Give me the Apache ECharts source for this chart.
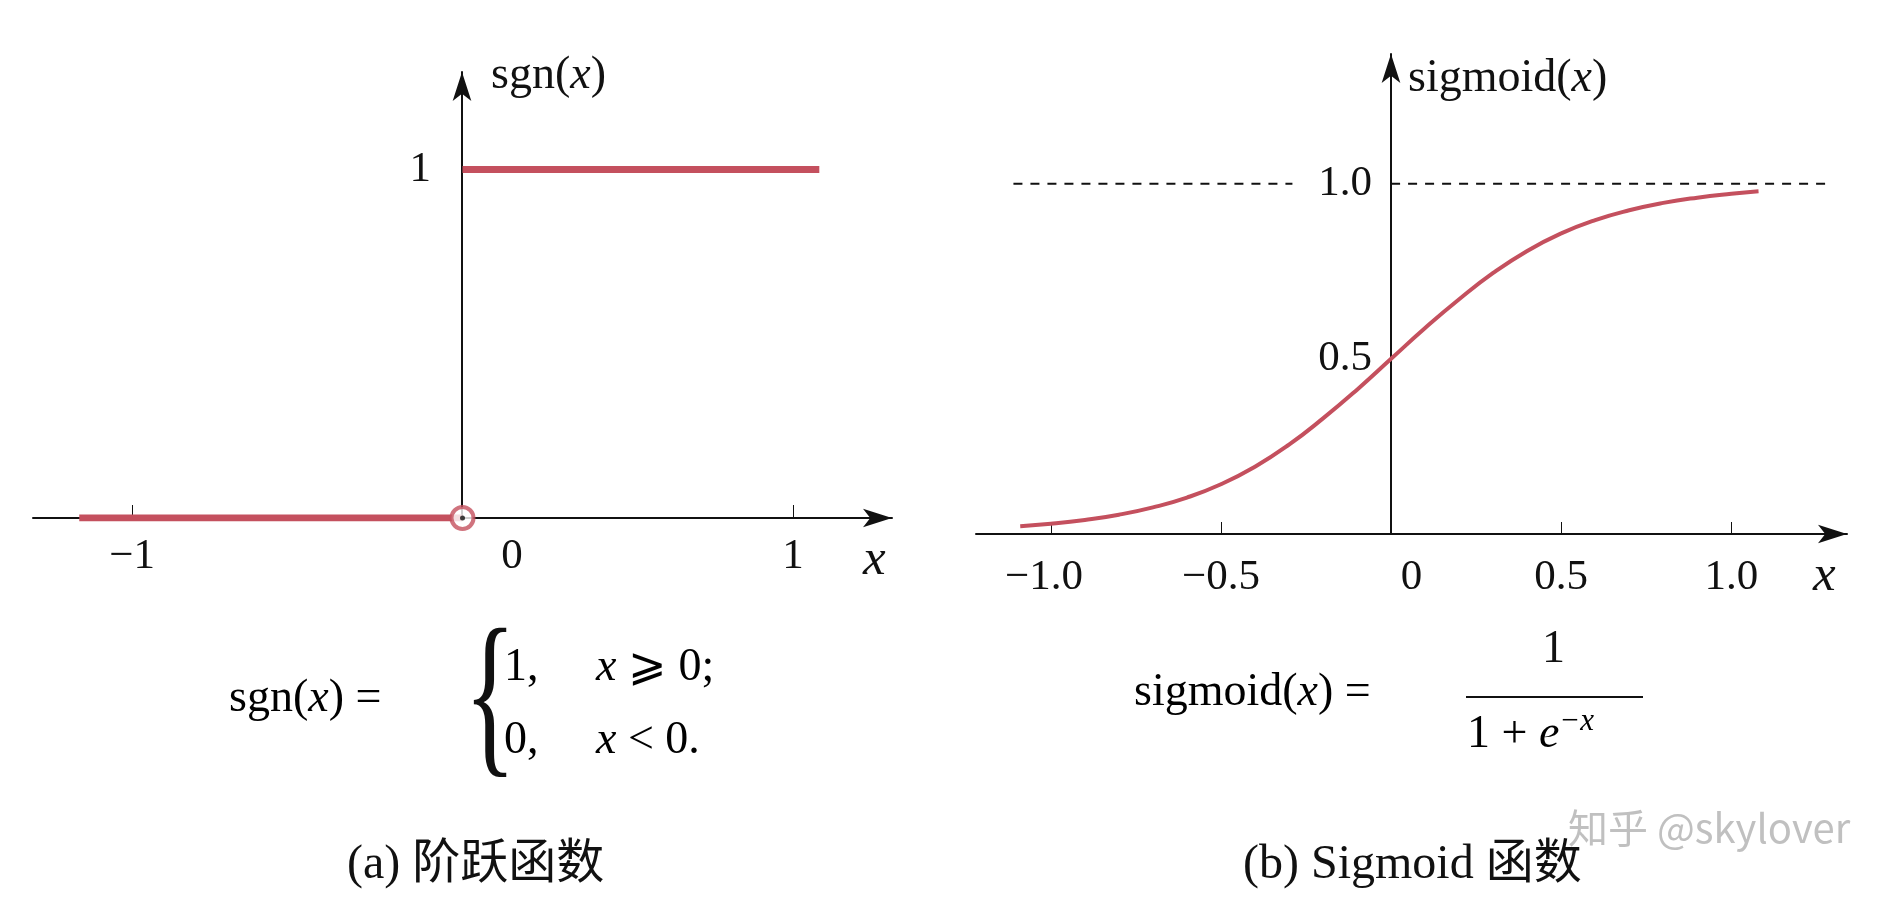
<!DOCTYPE html>
<html><head><meta charset="utf-8">
<script src="https://cdn.jsdelivr.net/npm/echarts@6/dist/echarts.min.js"></script>
<style>html,body{margin:0;background:#fff}#main{width:1882px;height:914px}</style>
</head><body><div id="main"></div>
<script>
// step function segments
var stepLow = [[-1.16, 0], [0, 0]];
var stepHigh = [[0, 1], [1.08, 1]];
// sigmoid curve
var sigX = [-1.09, -1.0, -0.9, -0.8, -0.7, -0.6, -0.5, -0.4, -0.3, -0.2, -0.1, 0, 0.1, 0.2, 0.3, 0.4, 0.5, 0.6, 0.7, 0.8, 0.9, 1.0, 1.08];
var sigY = [0.022, 0.029, 0.040, 0.055, 0.076, 0.104, 0.142, 0.192, 0.255, 0.330, 0.412, 0.5, 0.588, 0.670, 0.745, 0.808, 0.858, 0.896, 0.924, 0.945, 0.960, 0.971, 0.978];
var leftTicks = [-1, 1];
var leftLabels = [-1, 0.15, 1];
var rightTicks = [-1, -0.5, 0.5, 1];
var rightLabels = [-1.02, -0.5, 0.06, 0.5, 1];

var S = 1882 / 1560;
function p(v) { return Math.round(v * S); }
var serif = 'Liberation Serif';
var red = '#c4505e';
var ink = '#111';
var myChart = echarts.init(document.getElementById('main'));
function fmt(v) {
    if (Math.abs(v - 0.15) < 1e-6) return '0';
    return String(v).replace('-', '−');
}
function fmt1(v) {
    if (Math.abs(v - 0.06) < 1e-6) return '0';
    var a = Math.abs(v) > 0.9 ? 1 : Math.abs(v);
    return (v < 0 ? '−' : '') + a.toFixed(1);
}
var fs = p(36);
var rich = {
    r: { fontFamily: serif, fontSize: p(38), color: ink },
    i: { fontFamily: serif, fontStyle: 'italic', fontSize: p(38), color: ink },
    s: { fontFamily: serif, fontStyle: 'italic', fontSize: p(26), color: ink, verticalAlign: 'top', padding: [0, 0, p(22), 0] }
};
function axisLine() {
    return { onZero: false, lineStyle: { color: ink, width: 2 }, symbol: ['none', 'arrow'], symbolSize: [p(12), p(24)] };
}
var xName = { fontFamily: serif, fontStyle: 'italic', fontSize: p(42), color: ink, verticalAlign: 'top', padding: [p(14), 0, 0, 0] };
myChart.setOption({
    animation: false,
    grid: [
        { left: p(27), top: p(60), width: p(712), height: p(370) },
        { left: p(809), top: p(45), width: p(722), height: p(398) }
    ],
    xAxis: [
        { gridIndex: 0, type: 'value', min: -1.3, max: 1.3, splitLine: { show: false }, axisLine: axisLine(),
          axisTick: { inside: true, length: p(11), customValues: leftTicks, lineStyle: { color: ink } },
          axisLabel: { customValues: leftLabels, formatter: fmt, fontFamily: serif, fontSize: fs, color: ink, margin: p(14) },
          name: 'x', nameGap: p(-24), nameTextStyle: xName },
        { gridIndex: 1, type: 'value', min: -1.22, max: 1.34, splitLine: { show: false }, axisLine: axisLine(),
          axisTick: { inside: true, length: p(10), customValues: rightTicks, lineStyle: { color: ink } },
          axisLabel: { customValues: rightLabels, formatter: fmt1, fontFamily: serif, fontSize: fs, color: ink, margin: p(18) },
          name: 'x', nameGap: p(-28), nameTextStyle: xName }
    ],
    yAxis: [
        { gridIndex: 0, type: 'value', min: 0, max: 1.28, offset: -p(356), splitLine: { show: false }, axisLine: axisLine(),
          axisTick: { show: false },
          axisLabel: { customValues: [1], fontFamily: serif, fontSize: fs, color: ink, margin: p(26) },
          name: '{r|sgn(}{i|x}{r|)}', nameGap: p(-22), nameTextStyle: { align: 'left', padding: [0, 0, 0, p(24)], rich: rich } },
        { gridIndex: 1, type: 'value', min: 0, max: 1.37, offset: -p(344), splitLine: { show: false }, axisLine: axisLine(),
          axisTick: { show: false },
          axisLabel: { customValues: [0.5, 1], formatter: function (v) { return v.toFixed(1); }, fontFamily: serif, fontSize: fs, color: ink, margin: p(16) },
          name: '{r|sigmoid(}{i|x}{r|)}', nameGap: p(-40), nameTextStyle: { align: 'left', padding: [0, 0, 0, p(14)], rich: rich } }
    ],
    series: [
        { type: 'line', xAxisIndex: 0, yAxisIndex: 0, data: stepLow, symbol: 'none', lineStyle: { color: red, width: 7 }, z: 5 },
        { type: 'line', xAxisIndex: 0, yAxisIndex: 0, data: stepHigh, symbol: 'none', lineStyle: { color: red, width: 7 }, z: 5 },
        { type: 'scatter', xAxisIndex: 0, yAxisIndex: 0, data: [[0, 0]], symbol: 'circle', symbolSize: p(18),
          itemStyle: { color: '#fff', borderColor: red, borderWidth: 4 }, z: 6 },
        { type: 'scatter', xAxisIndex: 0, yAxisIndex: 0, data: [[0, 0]], symbol: 'circle', symbolSize: 5, itemStyle: { color: ink }, z: 7 },
        { type: 'line', xAxisIndex: 1, yAxisIndex: 1, data: [[-1.11, 1], [-0.29, 1], null, [0, 1], [1.28, 1]], connectNulls: false,
          symbol: 'none', lineStyle: { color: ink, width: 2, type: [9, 8] } },
        { type: 'line', xAxisIndex: 1, yAxisIndex: 1, smooth: true, symbol: 'none',
          data: sigX.map(function (x, i) { return [x, sigY[i]]; }), lineStyle: { color: red, width: 4 }, z: 5 }
    ],
    graphic: [
        { type: 'text', left: p(190), top: p(560), style: { text: '{r|sgn(}{i|x}{r|) =}', rich: rich } },
        { type: 'text', left: p(385), top: p(510), style: { text: '{', font: p(150) + 'px "' + serif + '"', fill: ink }, scaleX: 0.6 },
        { type: 'text', left: p(418), top: p(535), style: { text: '{r|1,     }{i|x}{r| ⩾ 0;}', rich: rich } },
        { type: 'text', left: p(418), top: p(595), style: { text: '{r|0,     }{i|x}{r| < 0.}', rich: rich } },
        { type: 'text', left: p(940), top: p(555), style: { text: '{r|sigmoid(}{i|x}{r|) =}', rich: rich } },
        { type: 'text', left: p(1278), top: p(520), style: { text: '1', font: p(38) + 'px "' + serif + '"', fill: ink } },
        { type: 'line', shape: { x1: p(1215), y1: p(578), x2: p(1362), y2: p(578) }, style: { stroke: ink, lineWidth: 2 } },
        { type: 'text', left: p(1216), top: p(585), style: { text: '{r|1 + }{i|e}{s|−x}', rich: rich } },
        { type: 'text', left: p(288), top: p(697), style: { text: '(a) 阶跃函数', font: p(40) + 'px "' + serif + '", "Noto Sans CJK SC"', fill: ink } },
        { type: 'text', left: p(1030), top: p(697), style: { text: '(b) Sigmoid 函数', font: p(40) + 'px "' + serif + '", "Noto Sans CJK SC"', fill: ink } },
        { type: 'text', left: p(1300), top: p(670), z: 10, style: { text: '知乎 @skylover', font: p(33) + 'px "Noto Sans CJK SC"', fill: 'rgba(150,150,150,0.6)' } }
    ]
});
</script></body></html>
